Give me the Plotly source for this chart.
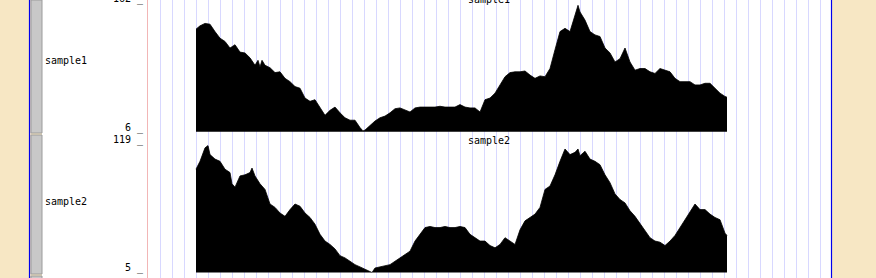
import plotly.graph_objects as go

W, H = 876, 278

# ---- data (positions are bin offsets along the displayed region) ----
pos1 = [0, 4, 9, 14, 19, 24, 29, 34, 39, 44, 49, 54, 59, 62, 64, 66, 69, 74, 79, 84, 89, 94, 99, 104,
        109, 114, 119, 124, 129, 134, 139, 144, 149, 154, 159, 164, 167, 169, 174, 179, 184, 189, 194,
        199, 204, 209, 214, 219, 224, 229, 234, 239, 244, 249, 254, 259, 264, 269, 274, 279, 284, 289,
        294, 299, 304, 309, 314, 319, 324, 329, 334, 339, 344, 349, 354, 357, 359, 364, 369, 374, 379,
        382, 384, 389, 394, 399, 404, 409, 414, 419, 424, 429, 434, 439, 444, 449, 454, 459, 464, 469,
        474, 479, 484, 489, 494, 499, 504, 509, 514, 519, 524, 529, 531]
sample1 = [131, 135, 138, 137, 128, 120, 116, 108, 112, 103, 102, 96, 87, 93, 85, 93, 87, 84, 78, 79,
           71, 67, 61, 59, 47, 43, 45, 35, 26, 32, 36, 29, 23, 20, 20, 11, 7, 8, 14, 19, 23, 25, 29,
           34, 35, 32, 30, 35, 36, 36, 36, 36, 37, 36, 36, 36, 39, 36, 35, 35, 30, 45, 47, 53, 63, 73,
           78, 79, 79, 80, 75, 71, 74, 73, 83, 99, 106, 128, 132, 128, 150, 160, 152, 142, 128, 124,
           122, 108, 102, 91, 95, 108, 91, 81, 83, 83, 79, 77, 83, 81, 79, 71, 67, 67, 67, 63, 63, 65,
           65, 59, 53, 49, 48]

pos2 = [0, 4, 9, 12, 14, 19, 24, 29, 34, 36, 39, 44, 49, 54, 56, 59, 64, 69, 74, 79, 84, 89, 94, 99,
        104, 109, 114, 119, 124, 129, 134, 139, 144, 149, 154, 159, 164, 169, 174, 176, 179, 184, 189,
        194, 199, 204, 209, 214, 219, 224, 229, 234, 239, 244, 249, 254, 259, 264, 269, 274, 279, 284,
        289, 294, 299, 304, 309, 314, 319, 324, 329, 334, 339, 344, 349, 354, 359, 364, 369, 374, 379,
        382, 384, 389, 394, 399, 404, 409, 414, 419, 424, 429, 434, 439, 444, 449, 454, 459, 464, 469,
        474, 479, 484, 489, 494, 499, 504, 509, 514, 519, 524, 529, 531]
sample2 = [97, 104, 116, 118, 110, 106, 104, 97, 94, 84, 81, 91, 92, 94, 98, 91, 84, 79, 66, 63, 58,
           55, 61, 66, 64, 58, 54, 48, 39, 33, 30, 26, 20, 18, 15, 12, 10, 8, 6, 5, 9, 10, 11, 12, 15,
           18, 21, 24, 33, 39, 45, 46, 45, 45, 46, 45, 45, 46, 45, 39, 36, 33, 33, 29, 27, 30, 36, 33,
           30, 43, 51, 54, 57, 63, 79, 82, 92, 104, 115, 110, 112, 115, 109, 113, 106, 104, 101, 92,
           85, 75, 70, 67, 60, 55, 49, 42, 36, 33, 32, 29, 33, 38, 45, 52, 58, 66, 61, 61, 57, 54, 52,
           40, 38]

track_names = ["sample1", "sample2"]
y_ranges = [(6, 162), (5, 119)]


def px(x):
    return x / W


def py(y):
    return (H - y) / H


fig = go.Figure()
fig.add_trace(go.Scatter(x=pos1, y=sample1, mode="lines", line=dict(color="black", width=0.8, shape="linear"),
                         fill="tozeroy", fillcolor="black", xaxis="x", yaxis="y", hoverinfo="skip"))
fig.add_trace(go.Scatter(x=pos2, y=sample2, mode="lines", line=dict(color="black", width=0.8, shape="linear"),
                         fill="tozeroy", fillcolor="black", xaxis="x", yaxis="y2", hoverinfo="skip"))

shapes = []
# white track area
shapes.append(dict(type="rect", xref="paper", yref="paper", x0=px(42), x1=px(831), y0=0, y1=1,
                   fillcolor="white", line=dict(width=0), layer="below"))
# gray side buttons
for top, bot in [(0, 133), (135, 274), (276, 290)]:
    shapes.append(dict(type="rect", xref="paper", yref="paper", x0=px(31), x1=px(42), y0=py(bot), y1=py(top),
                       fillcolor="#C8C8C8", line=dict(color="#9C9C9C", width=1), layer="below"))
# blue borders
for xb in (29.5, 831.5):
    shapes.append(dict(type="line", xref="paper", yref="paper", x0=px(xb), x1=px(xb), y0=0, y1=1,
                       line=dict(color="#0000EE", width=1.2), layer="below"))
# pink left boundary
shapes.append(dict(type="line", xref="paper", yref="paper", x0=px(147.5), x1=px(147.5), y0=0, y1=1,
                   line=dict(color="#F2B6B6", width=1), layer="below"))
# light blue guidelines
for k in range(56):
    gx = -35.5 + 12 * k
    shapes.append(dict(type="line", xref="x", yref="paper", x0=gx, x1=gx, y0=0, y1=1,
                       line=dict(color="#D8D8FF", width=1), layer="below"))

mono = dict(family="DejaVu Sans Mono", size=10, color="black")
ann = []
# scale labels
for txt, yc in [(f"{y_ranges[0][1]} _", -1.5), (f"{y_ranges[0][0]} _", 127.5),
                (f"{y_ranges[1][1]} _", 139.5), (f"{y_ranges[1][0]} _", 268)]:
    ann.append(dict(text=txt, xref="paper", yref="paper", x=px(145.5), y=py(yc), xanchor="right",
                    yanchor="middle", showarrow=False, font=mono))
# side labels
for name, yc in zip(track_names, [61, 201.5]):
    ann.append(dict(text=name, xref="paper", yref="paper", x=px(42.5), y=py(yc), xanchor="left",
                    yanchor="middle", showarrow=False, font=mono))
# centre titles
for name, yc in zip(track_names, [-0.5, 140.5]):
    ann.append(dict(text=name, xref="paper", yref="paper", x=px(489), y=py(yc), xanchor="center",
                    yanchor="middle", showarrow=False, font=mono))

fig.update_layout(
    width=W, height=H, margin=dict(l=0, r=0, t=0, b=0),
    paper_bgcolor="#F7E7C4", plot_bgcolor="rgba(0,0,0,0)",
    showlegend=False,
    xaxis=dict(domain=[0, 1], range=[-196, 680], visible=False, fixedrange=True),
    yaxis=dict(domain=[py(131.7), py(3.7)], range=list(y_ranges[0]), visible=False, anchor="x"),
    yaxis2=dict(domain=[py(272.5), py(144.5)], range=list(y_ranges[1]), visible=False, anchor="x"),
    shapes=shapes, annotations=ann,
)

fig.write_html("out.html")
